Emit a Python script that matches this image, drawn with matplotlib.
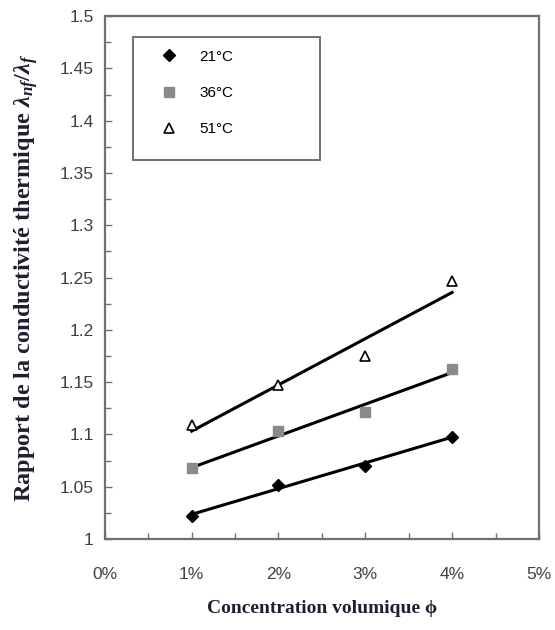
import numpy as np
import matplotlib
matplotlib.use("Agg")
import matplotlib.pyplot as plt
from matplotlib.patches import Rectangle
from matplotlib.ticker import MultipleLocator, FuncFormatter

plt.rcParams["mathtext.fontset"] = "custom"
plt.rcParams["mathtext.rm"] = "Liberation Serif:bold"
plt.rcParams["mathtext.it"] = "Liberation Serif:italic:bold"

# volume concentration (%) and conductivity ratio per temperature
conc = [1, 2, 3, 4]
ratio_21 = [1.022, 1.052, 1.070, 1.098]
ratio_36 = [1.068, 1.103, 1.121, 1.163]
ratio_51 = [1.109, 1.147, 1.175, 1.247]

series = [
    ("21°C", ratio_21, dict(marker="D", color="black", markersize=6)),
    ("36°C", ratio_36, dict(marker="s", color="#8a8a8a", markersize=7)),
    ("51°C", ratio_51, dict(marker="^", markerfacecolor="white",
                            markeredgecolor="black", color="black",
                            markersize=7, markeredgewidth=1.2)),
]

fig = plt.figure(figsize=(5.55, 6.3), dpi=100)
ax = fig.add_axes([0.189, 0.1444, 0.782, 0.830])

handles = []
x = np.array(conc, dtype=float)
for label, y, style in series:
    h, = ax.plot(x, y, linestyle="none", label=label, **style)
    handles.append(h)
    k, b = np.polyfit(x, y, 1)
    ax.plot([x[0], x[-1]], [k * x[0] + b, k * x[-1] + b],
            color="black", lw=2.2, zorder=1)

ax.set_xlim(0, 5)
ax.set_ylim(1.0, 1.5)
ax.xaxis.set_major_locator(MultipleLocator(1))
ax.xaxis.set_minor_locator(MultipleLocator(0.5))
ax.yaxis.set_major_locator(MultipleLocator(0.05))
ax.yaxis.set_minor_locator(MultipleLocator(0.025))
ax.xaxis.set_major_formatter(FuncFormatter(lambda v, p: f"{v:.0f}%"))
ax.yaxis.set_major_formatter(FuncFormatter(lambda v, p: f"{v:.2f}".rstrip("0").rstrip(".")))

for s in ax.spines.values():
    s.set_color("#707070")
    s.set_linewidth(1.6)
ax.tick_params(which="both", direction="in", color="#707070",
               labelcolor="#404040", labelsize=12.5, top=False, right=False)
ax.tick_params(axis="x", which="both", pad=20)
ax.tick_params(axis="y", which="both", pad=8)
ax.tick_params(which="major", length=5, width=1)
ax.tick_params(which="minor", length=4, width=1)
for t in ax.get_xticklabels() + ax.get_yticklabels():
    t.set_family(["Liberation Sans", "DejaVu Sans"])

ax.set_xlabel("Concentration volumique ϕ", family=["Liberation Serif", "DejaVu Serif"],
              fontweight="bold", fontsize=14, color="#1e1e30", labelpad=13)
ax.set_ylabel(r"Rapport de la conductivité thermique $\lambda_{nf}/\lambda_{f}$",
              family=["Liberation Serif", "DejaVu Serif"],
              fontweight="bold", fontsize=17.5, color="#1e1e30", labelpad=14)

ax.add_patch(Rectangle((0.0645, 0.725), 0.43, 0.235, transform=ax.transAxes,
                       fill=False, edgecolor="#707070", lw=1.4, zorder=3))
ax.legend(handles=handles, loc="upper left", bbox_to_anchor=(0.09, 0.962),
          frameon=False, handletextpad=1.2, labelspacing=1.45, handlelength=1.5,
          prop={"family": ["Liberation Sans", "DejaVu Sans"], "size": 11})

fig.savefig("out.png", dpi=100)
